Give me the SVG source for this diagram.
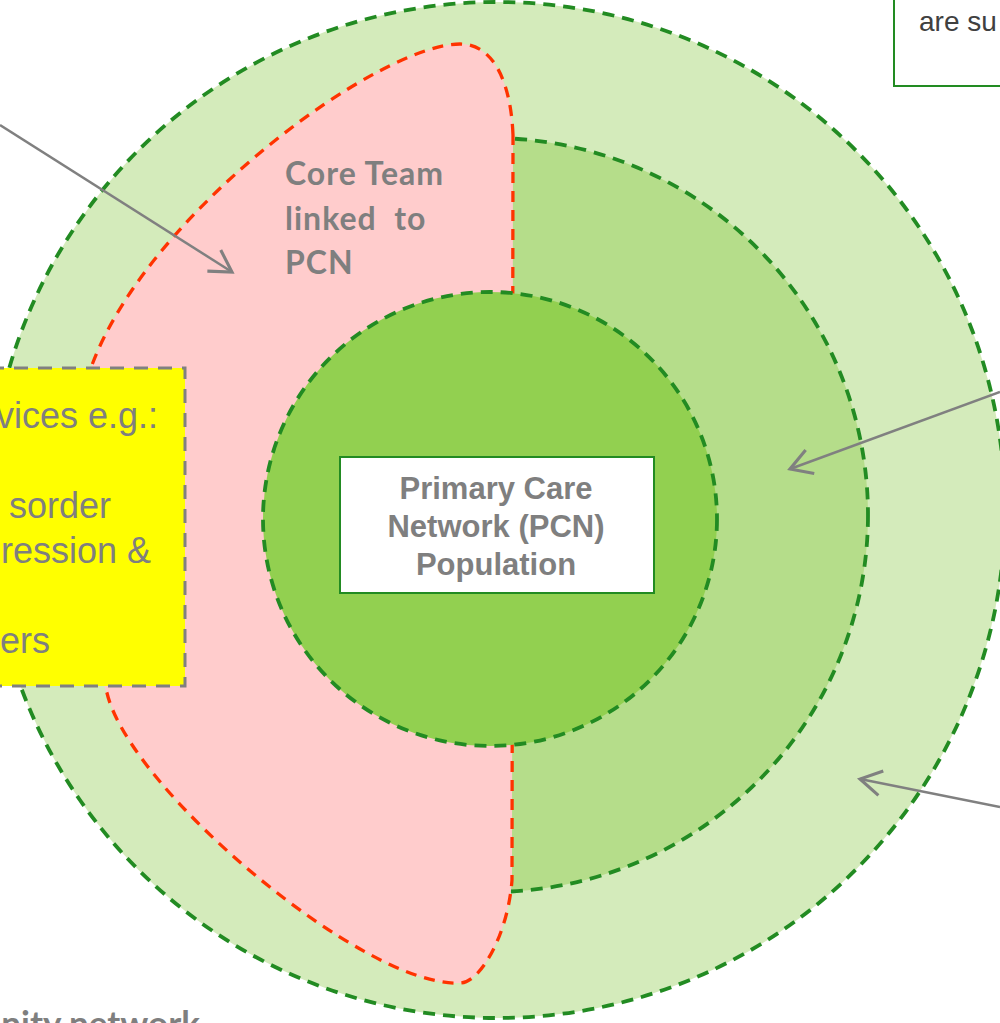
<svg xmlns="http://www.w3.org/2000/svg" width="1000" height="1023" viewBox="0 0 1000 1023">
<defs>
<style>
.gdash{stroke:#228B22;stroke-width:3.8;stroke-dasharray:12 8;}
.rdash{stroke:#FF3300;stroke-width:3.3;stroke-dasharray:11 8;}
.arrow{stroke:#808080;stroke-width:2.5;fill:none;}
.bold{font-family:Lato,"Open Sans","Liberation Sans",sans-serif;font-weight:bold;fill:#7F7F7F;}
.pcn{font-family:"Liberation Sans",Arial,sans-serif;font-weight:bold;fill:#7F7F7F;font-size:31px;text-anchor:middle;}
.yel{font-family:"Liberation Sans",Arial,sans-serif;fill:#7F7F7F;font-size:36px;text-anchor:end;}
</style>
<marker id="ah" markerUnits="userSpaceOnUse" markerWidth="30" markerHeight="30" viewBox="-20 -12 22 24" refX="0" refY="0" orient="auto">
<path d="M -17,-10 L 0,0 L -17,10" fill="none" stroke="#808080" stroke-width="2.5"/>
</marker>
</defs>
<rect width="1000" height="1023" fill="#FFFFFF"/>
<g id="outer-ring">
<circle cx="497" cy="510" r="508" fill="#D4EBBB" class="gdash"/>
</g>
<g id="middle-ring">
<circle cx="491" cy="515" r="377" fill="#B5DD8A" class="gdash"/>
</g>
<g id="core-team">
<path d="M 513,135 C 511,85 495,44 460,44 C 380,44 150,210 92,365 C 75,410 85,640 107,693 C 130,790 365,988 460,983 C 480,983 508,935 512,880 Z" fill="#FFCCCC" class="rdash"/>
<text class="bold" font-size="32" letter-spacing="1"><tspan x="285" y="185">Core Team</tspan><tspan x="285" y="230">linked&#160; to</tspan><tspan x="285" y="274">PCN</tspan></text>
</g>
<g id="inner-circle">
<circle cx="490" cy="519" r="227" fill="#92D050" class="gdash"/>
</g>
<g id="pcn-population">
<rect x="340" y="457" width="314" height="136" fill="#FFFFFF" stroke="#228B22" stroke-width="2"/>
<text class="pcn"><tspan x="496" y="499">Primary Care</tspan><tspan x="496" y="537">Network (PCN)</tspan><tspan x="496" y="575">Population</tspan></text>
</g>
<g id="services-box">
<rect x="-10" y="368" width="195" height="318" fill="#FFFF00" stroke="#808080" stroke-width="3" stroke-dasharray="14 10"/>
<text class="yel"><tspan x="158" y="428">vices e.g.:</tspan><tspan x="111" y="518">sorder</tspan><tspan x="151" y="563">ression &amp;</tspan><tspan x="50" y="653">ers</tspan></text>
</g>
<g id="top-right-box">
<rect x="894" y="-10" width="120" height="96" fill="#FFFFFF" stroke="#228B22" stroke-width="2"/>
<text x="919" y="31" font-family="'Liberation Sans',Arial,sans-serif" font-size="28" fill="#404040">are su</text>
</g>
<g id="community-label">
<text class="bold" font-size="35" x="200" y="1036" text-anchor="end">nity network</text>
</g>
<g id="connectors">
<line class="arrow" x1="0" y1="125" x2="232" y2="272" marker-end="url(#ah)"/>
<line class="arrow" x1="1000" y1="392" x2="790" y2="469" marker-end="url(#ah)"/>
<line class="arrow" x1="1000" y1="807" x2="860" y2="779" marker-end="url(#ah)"/>
</g>
</svg>
